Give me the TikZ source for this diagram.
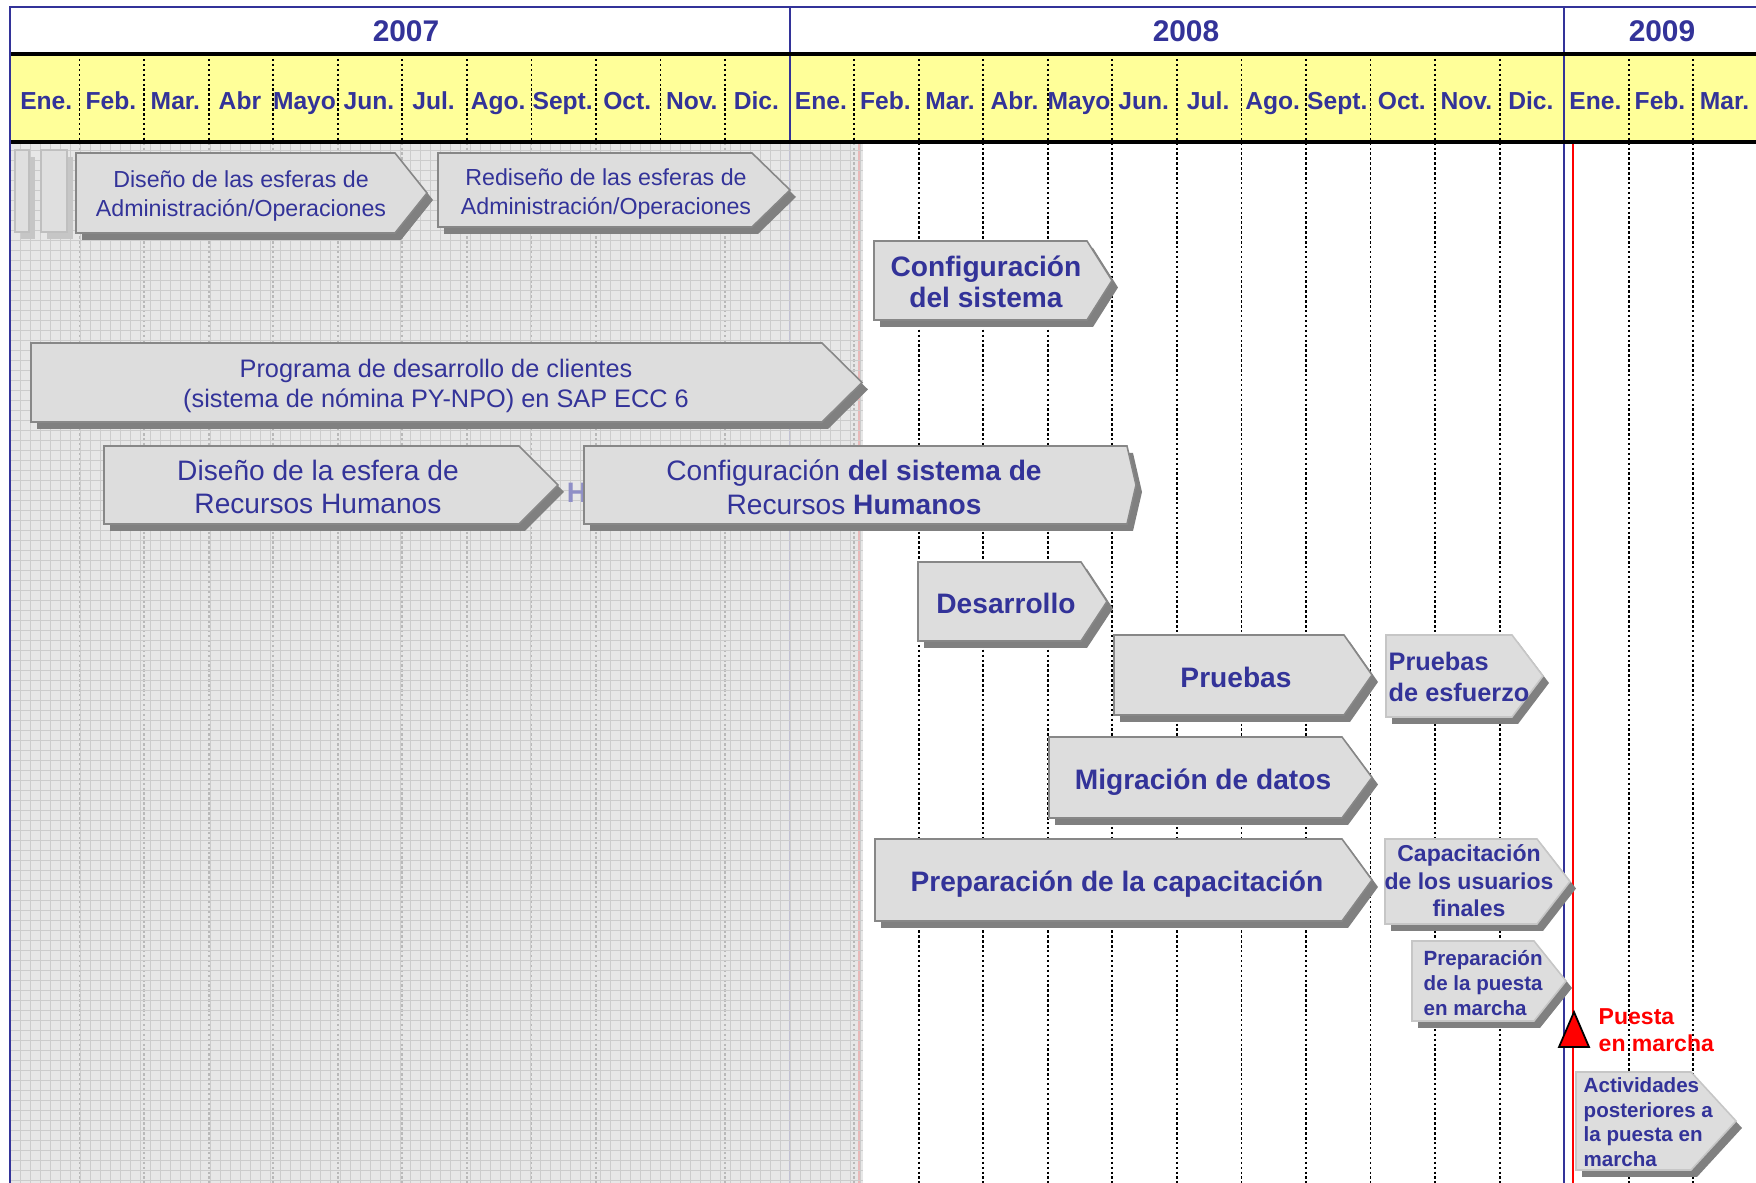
\documentclass[tikz,border=0pt]{standalone}
\usepackage{fontspec}
\setmainfont{Liberation Sans}

\definecolor{planblue}{RGB}{51,51,153}
\definecolor{monthyellow}{RGB}{255,255,153}
\definecolor{boxgray}{RGB}{221,221,221}
\definecolor{shadowgray}{RGB}{128,128,128}
\definecolor{edgegray}{RGB}{135,135,135}
\definecolor{pastgray}{RGB}{226,226,226}
\definecolor{gridgray}{RGB}{204,204,204}

\tikzset{
  phasebox/.style={fill=boxgray, draw=edgegray, line width=0.45pt, line join=miter},
  lightedge/.style={draw=gray!45},
  phaseshadow/.style={fill=shadowgray},
  phasetext/.style={text=planblue, align=center, inner sep=0pt},
  bigbold/.style={font=\fontsize{8}{8.9}\selectfont\bfseries},
  monthlabel/.style={text=planblue, anchor=base, inner sep=0pt, font=\fontsize{7}{8}\selectfont\bfseries},
  yearlabel/.style={text=planblue, anchor=base, inner sep=0pt, font=\fontsize{8.5}{9}\selectfont\bfseries},
  monthline/.style={line width=0.5pt, dash pattern=on 0.7pt off 0.7pt},
}

% chevron with drop shadow: [opts] x-left, y-top, x-corner, x-tip, y-bottom
\newcommand{\phasechevron}[6][]{%
  \fill[phaseshadow, shift={(6,7)}] (#2,#3) -- (#4,#3) -- (#5,{(#3+#6)/2}) -- (#4,#6) -- (#2,#6) -- cycle;
  \draw[phasebox, #1] (#2,#3) -- (#4,#3) -- (#5,{(#3+#6)/2}) -- (#4,#6) -- (#2,#6) -- cycle;}

\begin{document}
\begin{tikzpicture}[x=0.01cm, y=-0.01cm]
  \useasboundingbox (0,0) rectangle (1756,1183);
  \fill[white] (0,0) rectangle (1756,1183);

  % header rows
  \fill[monthyellow] (10,54) rectangle (1756,142);
  \foreach \k in {1,...,11,13,14,...,23,25,26}
    \draw[monthline] ({15+64.55*\k},54) -- ({15+64.55*\k},1183);
  \draw[planblue, line width=0.6pt] (789.6,7) -- (789.6,1183);
  \draw[planblue, line width=0.6pt] (1564.2,7) -- (1564.2,1183);
  \draw[red, line width=0.6pt] (859,142) -- (859,1183);
  \draw[red, line width=0.6pt] (1573,142) -- (1573,1183);
  \draw[line width=0.9pt] (10,54) -- (1756,54);

  % months already past
  \fill[pastgray, opacity=0.82] (11,141) rectangle (863,1183);
  \draw[gridgray, line width=0.25pt, step=0.1cm] (11,141) grid (863,1183);
  \draw[line width=0.9pt] (10,142) -- (1756,142);
  \draw[planblue, line width=0.7pt] (1756,7) -- (10,7) -- (10,1183);

  \node[yearlabel] (y2007) at (406,42) {2007};
  \node[yearlabel] (y2008) at (1186,42) {2008};
  \node[yearlabel] (y2009) at (1662,42) {2009};
  \foreach \m [count=\i] in {Ene.,Feb.,Mar.,Abr,Mayo,Jun.,Jul.,Ago.,Sept.,Oct.,Nov.,Dic.,
      Ene.,Feb.,Mar.,Abr.,Mayo,Jun.,Jul.,Ago.,Sept.,Oct.,Nov.,Dic.,Ene.,Feb.,Mar.}
    \node[monthlabel] (m\i) at ({14+64.55*(\i-0.5)},110) {\m};

  % faded bars on the left
  \fill[gray!45] (21,157) rectangle (35,239);
  \draw[fill=gray!25, draw=gray!50, line width=0.4pt] (15,150) rectangle (29,232);
  \fill[gray!45] (47,157) rectangle (73,239);
  \draw[fill=gray!25, draw=gray!50, line width=0.4pt] (41,150) rectangle (67,232);

  \phasechevron{76}{153}{395}{427}{233}
  \node[phasetext, font=\fontsize{6.6}{8}\selectfont] (admin) at (241,196)
    {Diseño de las esferas de\\Administración/Operaciones};
  \phasechevron{438}{153}{752}{790}{227}
  \node[phasetext, font=\fontsize{6.6}{8}\selectfont] (redesign) at (606,194)
    {Rediseño de las esferas de\\Administración/Operaciones};
  \phasechevron{874}{241}{1087}{1112}{320}
  \node[phasetext, bigbold] (config) at (986,282) {Configuración\\del sistema};
  \phasechevron{31}{343}{822}{862}{422}
  \node[phasetext, font=\fontsize{7.2}{8.6}\selectfont] (payroll) at (436,386)
    {Programa de desarrollo de clientes\\(sistema de nómina PY-NPO) en SAP ECC 6};
  \phasechevron{104}{446}{519}{558}{524}
  \node[phasetext, font=\fontsize{8}{9.6}\selectfont] (hrdesign) at (318,487)
    {Diseño de la esfera de\\Recursos Humanos};
  \node[text=planblue!55, inner sep=0pt, font=\fontsize{8}{9}\selectfont\bfseries] (hidden) at (577,493) {H};
  \phasechevron{584}{446}{1127}{1136}{524}
  \node[phasetext, font=\fontsize{8}{9.6}\selectfont] (hrconfig) at (854,487)
    {Configuración \textbf{del sistema de}\\Recursos \textbf{Humanos}};
  \phasechevron{918}{562}{1081}{1107}{641}
  \node[phasetext, bigbold] (devel) at (1006,603) {Desarrollo};
  \phasechevron{1114}{635}{1344}{1372}{715}
  \node[phasetext, bigbold] (tests) at (1236,677) {Pruebas};
  \phasechevron[lightedge]{1386}{635}{1512}{1543}{717}
  \node[phasetext, align=left, anchor=west, font=\fontsize{7.2}{8.9}\selectfont\bfseries] (stress) at (1388,677)
    {Pruebas\\de esfuerzo};
  \phasechevron{1049}{737}{1342}{1372}{818}
  \node[phasetext, bigbold] (migration) at (1203,782) {Migración de datos};
  \phasechevron{875}{839}{1342}{1372}{921}
  \node[phasetext, bigbold] (trainprep) at (1117,884) {Preparación de la capacitación};
  \phasechevron[lightedge]{1385}{839}{1537}{1570}{924}
  \node[phasetext, font=\fontsize{6.55}{7.8}\selectfont\bfseries] (training) at (1469,881)
    {Capacitación\\de los usuarios\\finales};
  \phasechevron[lightedge]{1412}{941}{1534}{1566}{1021}
  \node[phasetext, align=left, anchor=west, font=\fontsize{5.85}{7}\selectfont\bfseries] (golive) at (1423,983)
    {Preparación\\de la puesta\\en marcha};

  % go-live milestone
  \draw[fill=red, draw=black, line width=0.5pt] (1574,1012) -- (1589,1047) -- (1559,1047) -- cycle;
  \node[text=red, align=left, anchor=west, inner sep=0pt, font=\fontsize{6.55}{7.6}\selectfont\bfseries] (milestone) at (1598,1030)
    {Puesta\\en marcha};

  \phasechevron[lightedge]{1576}{1072}{1691}{1736}{1170}
  \node[phasetext, align=left, anchor=west, font=\fontsize{5.85}{7}\selectfont\bfseries] (after) at (1583,1122)
    {Actividades\\posteriores a\\la puesta en\\marcha};
\end{tikzpicture}
\end{document}
